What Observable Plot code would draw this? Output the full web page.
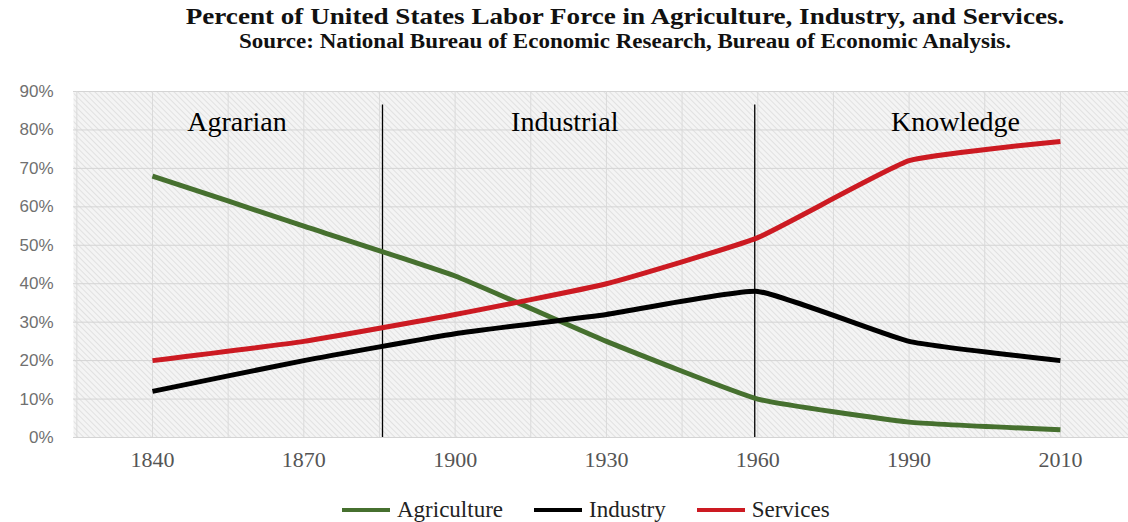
<!DOCTYPE html>
<html>
<head>
<meta charset="utf-8">
<script src="https://cdn.jsdelivr.net/npm/d3@7"></script>
<script src="https://cdn.jsdelivr.net/npm/@observablehq/plot@0.6"></script>
<style>
  html, body { margin: 0; padding: 0; background: #ffffff; }
  #wrap { position: relative; width: 1128px; height: 522px; overflow: hidden; }
  .title { position: absolute; left: 0; width: 1250px; text-align: center; font-family: "Liberation Serif", "Times New Roman", serif; font-weight: bold; color: #111; line-height: 1; white-space: nowrap; transform-origin: 625px 50%; }
  #t1 { top: 4px; font-size: 24px; transform: scaleX(1.13); }
  #t2 { top: 31px; font-size: 20px; transform: scaleX(1.15); }
  #chart { position: absolute; left: 0; top: 60px; }
  #legend { position: absolute; left: 342px; top: 497px; display: flex; align-items: center; line-height: 26px; }
  .item { display: flex; align-items: center; margin-right: 31px; }
  .sw { width: 48px; height: 4px; margin-right: 7px; }
  .lab { font-family: "Liberation Serif", "Times New Roman", serif; font-size: 23px; color: #222; }
</style>
</head>
<body>
<div id="wrap">
  <div class="title" id="t1">Percent of United States Labor Force in Agriculture, Industry, and Services.</div>
  <div class="title" id="t2">Source: National Bureau of Economic Research, Bureau of Economic Analysis.</div>
  <div id="chart"></div>
  <div id="legend"></div>
</div>
<script>
// ---- data ----
const years = ["1840", "1870", "1900", "1930", "1960", "1990", "2010"];
const agriculture = [68, 55, 42, 25, 10, 4, 2];
const industry = [12, 20, 27, 32, 38, 25, 20];
const services = [20, 25, 32, 40, 52, 72, 77];
const seriesNames = ["Agriculture", "Industry", "Services"];
const seriesColors = ["#46702f", "#000000", "#cc1a22"];
const yTicks = [0, 10, 20, 30, 40, 50, 60, 70, 80, 90];
const eras = ["Agrarian", "Industrial", "Knowledge"];
const eraX = [0.23, 2.37, 4.88];
const eraY = [82, 82, 82];
const eraBoundaries = [1.52, 3.98];
const eraBoundaryTop = 86.5;

// ---- build table ----
const seriesValues = [agriculture, industry, services];
const rows = [];
seriesNames.forEach((name, s) => {
  years.forEach((yr, i) => rows.push({series: name, i, year: yr, value: seriesValues[s][i]}));
});
const eraRows = eras.map((t, k) => ({text: t, x: eraX[k], y: eraY[k]}));
const boundaryRows = eraBoundaries.map(x => ({x, y1: 0, y2: eraBoundaryTop}));
const xGrid = d3.range(-0.5, 6.45, 0.5);

const plot = Plot.plot({
  width: 1128,
  height: 420,
  marginTop: 31,
  marginBottom: 43,
  marginLeft: 73,
  marginRight: 0,
  style: {background: "transparent", overflow: "visible"},
  x: {type: "linear", domain: [-0.522, 6.45]},
  y: {domain: [0, 90]},
  color: {domain: seriesNames, range: seriesColors},
  marks: [
    Plot.frame({fill: "url(#hatch)", stroke: "none"}),
    Plot.gridY(yTicks, {stroke: "#d4d4d4", strokeOpacity: 1, strokeWidth: 1}),
    Plot.gridX(xGrid, {stroke: "#dadada", strokeOpacity: 1, strokeWidth: 1}),
    Plot.axisY(yTicks, {tickSize: 0, tickPadding: 20, tickFormat: d => d + "%", fontSize: 17, fontFamily: "Liberation Sans, Arial, sans-serif", color: "#707070", label: null}),
    Plot.axisX(d3.range(years.length), {tickSize: 0, tickPadding: 14, tickFormat: i => years[i], fontSize: 22, fontFamily: "Liberation Serif, Times New Roman, serif", color: "#555555", label: null}),
    Plot.ruleX(boundaryRows, {x: "x", y1: "y1", y2: "y2", stroke: "#000", strokeWidth: 1.3}),
    Plot.line(rows, {x: "i", y: "value", z: "series", stroke: "series", strokeWidth: 5, curve: d3.curveCardinal.tension(0.6), strokeLinecap: "butt", strokeLinejoin: "round"}),
    Plot.text(eraRows, {x: "x", y: "y", text: "text", textAnchor: "start", lineAnchor: "middle", fontSize: 28, fontFamily: "Liberation Serif, Times New Roman, serif", fill: "#000"})
  ]
});

// hatch pattern
const ns = "http://www.w3.org/2000/svg";
const defs = document.createElementNS(ns, "defs");
defs.innerHTML = `<pattern id="hatch" patternUnits="userSpaceOnUse" width="4" height="4" patternTransform="rotate(-45)">
  <rect width="4" height="4" fill="#f4f4f4"></rect>
  <line x1="0" y1="0" x2="0" y2="4" stroke="#dddddd" stroke-width="1.6"></line>
</pattern>`;
plot.insertBefore(defs, plot.firstChild);
document.getElementById("chart").appendChild(plot);

// legend
const legend = document.getElementById("legend");
seriesNames.forEach((name, k) => {
  const item = document.createElement("div");
  item.className = "item";
  const sw = document.createElement("div");
  sw.className = "sw";
  sw.style.background = seriesColors[k];
  const label = document.createElement("span");
  label.className = "lab";
  label.textContent = name;
  item.appendChild(sw);
  item.appendChild(label);
  legend.appendChild(item);
});
</script>
</body>
</html>
